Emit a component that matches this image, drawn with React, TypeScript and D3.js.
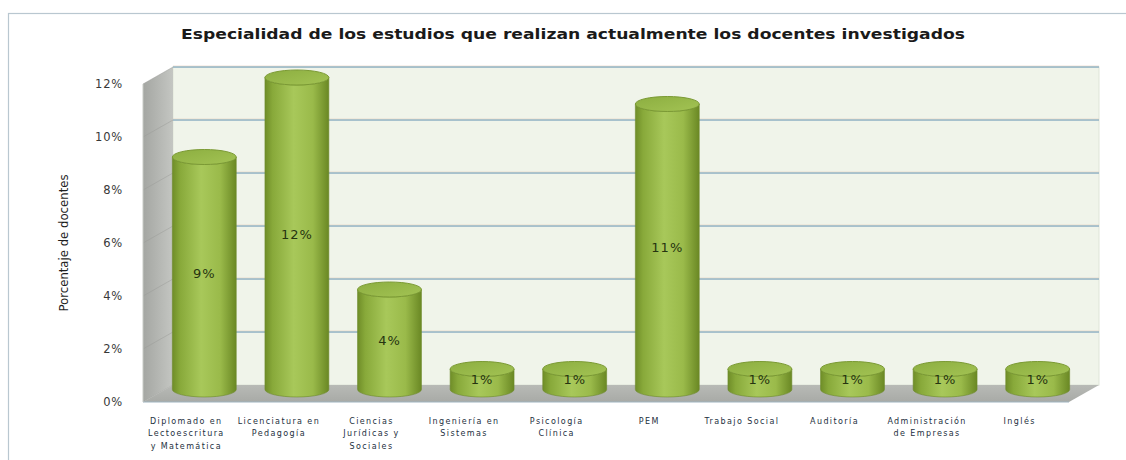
import React from "react";
import * as d3 from "d3";

const title = "Especialidad de los estudios que realizan actualmente los docentes investigados";
const yAxisTitle = "Porcentaje de docentes";
const categories = [
  "Diplomado en\nLectoescritura\ny Matemática",
  "Licenciatura en\nPedagogía",
  "Ciencias\nJurídicas y\nSociales",
  "Ingeniería en\nSistemas",
  "Psicología\nClínica",
  "PEM",
  "Trabajo Social",
  "Auditoría",
  "Administración\nde Empresas",
  "Inglés",
];
const values = [9, 12, 4, 1, 1, 11, 1, 1, 1, 1];
const yTicks = [0, 2, 4, 6, 8, 10, 12];

const W = 1126;
const H = 460;

export default function App() {
  const backLeft = 173;
  const backRight = 1099;
  const dx = -30;
  const dy = 17;
  const yBack = d3.scaleLinear().domain([0, 12]).range([385, 67]);
  const yFront = (v: number) => yBack(v) + dy;
  const yMid = (v: number) => yBack(v) + dy / 2;
  const x = d3
    .scaleBand<string>()
    .domain(categories)
    .range([backLeft + dx / 2, backRight + dx / 2])
    .paddingInner(0.31)
    .paddingOuter(0.155);
  const bw = x.bandwidth();
  const rx = bw / 2;
  const ry = 7.5;

  const top12 = yBack(12);
  const base0 = yBack(0);

  return (
    <svg width={W} height={H} style={{ display: "block", position: "absolute", left: 0, top: 0 }}>
      <defs>
        <linearGradient id="cyl" x1="0" x2="1" y1="0" y2="0">
          <stop offset="0" stopColor="#6f8d28" />
          <stop offset="0.12" stopColor="#88a93a" />
          <stop offset="0.45" stopColor="#a8c85a" />
          <stop offset="0.75" stopColor="#9aba4a" />
          <stop offset="1" stopColor="#6a8824" />
        </linearGradient>
        <linearGradient id="cyltop" x1="0" x2="1" y1="0" y2="1">
          <stop offset="0" stopColor="#8cae40" />
          <stop offset="1" stopColor="#a3c354" />
        </linearGradient>
        <linearGradient id="side" x1="0" x2="1" y1="0" y2="0">
          <stop offset="0" stopColor="#a4a6a2" />
          <stop offset="1" stopColor="#c4c6c2" />
        </linearGradient>
        <linearGradient id="floor" x1="0" x2="0" y1="0" y2="1">
          <stop offset="0" stopColor="#b8bab6" />
          <stop offset="1" stopColor="#a8aaa6" />
        </linearGradient>
      </defs>
      <rect x={0} y={0} width={W} height={H} fill="#ffffff" />
      {/* outer frame */}
      <rect x={8.5} y={13.5} width={1140} height={470} fill="none" stroke="#b9c7d0" strokeWidth={1.2} />

      {/* title */}
      <text
        x={573}
        y={39}
        textAnchor="middle"
        fontFamily="DejaVu Sans, Verdana, sans-serif"
        fontWeight="bold"
        fontSize={14}
        fill="#1a1a1a"
        textLength={784}
        lengthAdjust="spacingAndGlyphs"
      >
        {title}
      </text>

      {/* back wall */}
      <rect x={backLeft} y={top12} width={backRight - backLeft} height={base0 - top12} fill="#f0f4ea" stroke="#dfe5d8" />
      {/* side wall */}
      <polygon
        points={`${backLeft},${top12} ${backLeft + dx},${top12 + dy} ${backLeft + dx},${base0 + dy} ${backLeft},${base0}`}
        fill="url(#side)"
      />
      {yTicks.map((t) => (
        <line
          key={"sg" + t}
          x1={backLeft}
          y1={yBack(t)}
          x2={backLeft + dx}
          y2={yFront(t)}
          stroke="#9a9c98"
          strokeWidth={0.8}
          opacity={0.6}
        />
      ))}
      {/* gridlines */}
      {yTicks.filter((t) => t > 0).map((t) => (
        <g key={"g" + t}>
          <line x1={backLeft} x2={backRight} y1={yBack(t)} y2={yBack(t)} stroke="#8fb1c3" strokeWidth={1.4} />
          <line x1={backLeft} x2={backRight} y1={yBack(t) - 1.2} y2={yBack(t) - 1.2} stroke="#e9c9b4" strokeWidth={0.6} opacity={0.6} />
        </g>
      ))}
      {/* floor */}
      <polygon
        points={`${backLeft},${base0} ${backRight},${base0} ${backRight + dx},${base0 + dy} ${backLeft + dx},${base0 + dy}`}
        fill="url(#floor)"
      />
      <line x1={backLeft + dx} x2={backRight + dx} y1={base0 + dy} y2={base0 + dy} stroke="#9fb4c0" strokeWidth={1} />
      <line x1={backLeft + dx} x2={backLeft + dx} y1={top12 + dy} y2={base0 + dy} stroke="#c8cbc6" strokeWidth={1} />

      {/* cylinders */}
      {categories.map((c, i) => {
        const v = values[i];
        const x0 = x(c) as number;
        const x1 = x0 + bw;
        const cx = x0 + rx;
        const yb = yMid(0) - 4;
        const yt = yMid(v) + 2;
        const body = `M${x0},${yt} L${x0},${yb} A${rx},${ry} 0 0 0 ${x1},${yb} L${x1},${yt} A${rx},${ry} 0 0 1 ${x0},${yt} Z`;
        return (
          <g key={c}>
            <path d={body} fill="url(#cyl)" stroke="#6d8a2c" strokeWidth={0.6} />
            <ellipse cx={cx} cy={yt} rx={rx} ry={ry} fill="url(#cyltop)" stroke="#7b9a34" strokeWidth={1} />
            <text
              x={cx}
              y={(yt + yb) / 2 + 5}
              textAnchor="middle"
              fontFamily="DejaVu Sans, Verdana, sans-serif"
              fontSize={13}
              letterSpacing={1}
              fill="#263410"
            >
              {v + "%"}
            </text>
          </g>
        );
      })}

      {/* y tick labels */}
      {yTicks.map((t) => (
        <text
          key={"t" + t}
          x={123}
          y={yFront(t) + 4}
          textAnchor="end"
          fontFamily="DejaVu Sans, Verdana, sans-serif"
          fontSize={11.5}
          letterSpacing={0.8}
          fill="#383838"
        >
          {t + "%"}
        </text>
      ))}

      {/* y axis title */}
      <text
        transform={`translate(68,243) rotate(-90)`}
        textAnchor="middle"
        fontFamily="Liberation Sans Narrow, DejaVu Sans Condensed, Arial Narrow, sans-serif"
        fontSize={12.5}
        fill="#1e1e1e"
        textLength={137}
        lengthAdjust="spacingAndGlyphs"
      >
        {yAxisTitle}
      </text>

      {/* x labels */}
      {categories.map((c) => {
        const cx = (x(c) as number) + rx - 18;
        return (
          <text
            key={"x" + c}
            textAnchor="middle"
            fontFamily="DejaVu Sans, Verdana, sans-serif"
            fontSize={8}
            letterSpacing={1.4}
            fill="#24303e"
          >
            {c.split("\n").map((line, j) => (
              <tspan key={j} x={cx} y={423.5 + j * 12.5}>
                {line}
              </tspan>
            ))}
          </text>
        );
      })}
    </svg>
  );
}
